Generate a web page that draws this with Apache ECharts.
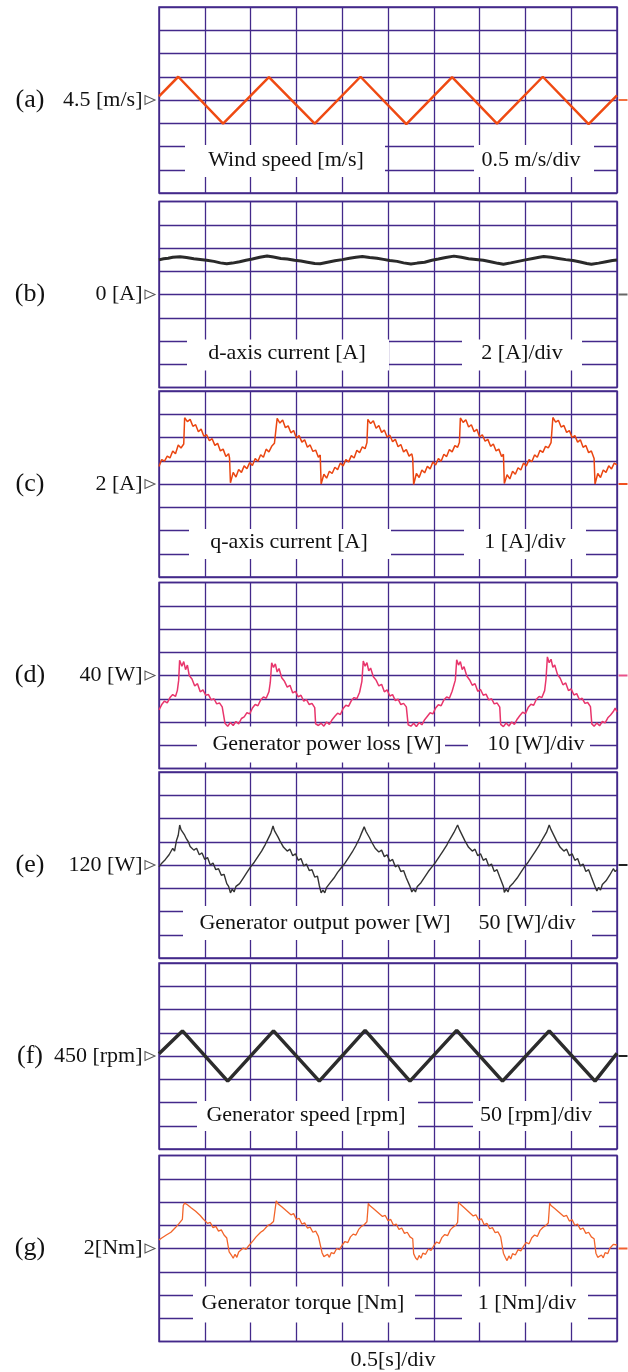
<!DOCTYPE html>
<html>
<head>
<meta charset="utf-8">
<script src="https://cdn.jsdelivr.net/npm/echarts@6/dist/echarts.min.js"></script>
<style>
  html, body { margin: 0; padding: 0; background: #fff; }
  #main { width: 628px; height: 1372px; }
</style>
</head>
<body>
<div id="main"></div>
<script>
// time in seconds, 0.5 s/div, 10 div across
const timeRange = [0, 5];

// (a) wind speed [m/s]
const windSpeed = [[0,4.58],[0.21,5.0],[0.70,3.99],[1.20,4.99],[1.70,3.99],[2.20,5.0],[2.70,3.98],[3.20,4.99],[3.69,3.99],[4.19,5.0],[4.69,3.98],[5.0,4.6]];

// (b) d-axis current [A]
const dCurrent = [[0,2.98],[0.05,3.08],[0.1,3.12],[0.15,3.2],[0.23,3.25],[0.3,3.18],[0.38,3.08],[0.45,3.02],[0.52,2.95],[0.6,2.85],[0.67,2.72],[0.74,2.64],[0.8,2.7],[0.88,2.82],[0.95,2.95],[1.02,3.05],[1.1,3.2],[1.18,3.32],[1.25,3.22],[1.33,3.1],[1.4,3.05],[1.48,2.95],[1.55,2.88],[1.62,2.78],[1.7,2.66],[1.76,2.64],[1.84,2.78],[1.92,2.9],[2.0,3.0],[2.08,3.12],[2.15,3.2],[2.22,3.26],[2.3,3.18],[2.38,3.12],[2.45,3.02],[2.52,2.92],[2.6,2.85],[2.67,2.72],[2.75,2.62],[2.82,2.7],[2.9,2.78],[2.98,2.95],[3.05,3.05],[3.13,3.18],[3.22,3.3],[3.3,3.2],[3.38,3.08],[3.46,3.02],[3.54,2.95],[3.62,2.82],[3.7,2.68],[3.76,2.6],[3.84,2.72],[3.92,2.85],[4.0,2.98],[4.08,3.1],[4.15,3.2],[4.2,3.26],[4.28,3.2],[4.36,3.1],[4.44,3.0],[4.52,2.92],[4.6,2.8],[4.67,2.66],[4.72,2.6],[4.8,2.7],[4.88,2.82],[4.95,2.92],[5.0,2.96]];

// (c) q-axis current [A]
const qCurrent = [[0,2.75],[0.03,3.05],[0.06,2.98],[0.09,3.2],[0.12,3.12],[0.15,3.42],[0.18,3.3],[0.21,3.68],[0.24,3.55],[0.27,3.72],[0.28,4.85],[0.31,4.68],[0.34,4.78],[0.37,4.48],[0.4,4.55],[0.43,4.25],[0.46,4.36],[0.49,4.05],[0.52,4.12],[0.55,3.86],[0.58,3.95],[0.61,3.66],[0.64,3.75],[0.67,3.42],[0.7,3.5],[0.73,3.18],[0.76,3.3],[0.77,3.12],[0.78,2.05],
  [0.81,2.5],[0.84,2.3],[0.87,2.62],[0.9,2.5],[0.93,2.78],[0.96,2.66],[0.99,2.92],[1.02,2.8],[1.05,3.1],[1.08,2.98],[1.11,3.26],[1.14,3.15],[1.17,3.5],[1.2,3.38],[1.23,3.62],[1.26,3.75],[1.28,3.82],[1.29,4.82],
  [1.32,4.62],[1.35,4.75],[1.38,4.42],[1.41,4.5],[1.44,4.2],[1.47,4.3],[1.5,3.98],[1.53,4.08],[1.56,3.8],[1.59,3.9],[1.62,3.58],[1.65,3.68],[1.68,3.4],[1.71,3.46],[1.74,3.15],[1.76,3.25],[1.77,2.0],
  [1.8,2.42],[1.83,2.25],[1.86,2.55],[1.89,2.45],[1.92,2.72],[1.95,2.62],[1.98,2.9],[2.01,2.78],[2.04,3.05],[2.07,2.95],[2.1,3.22],[2.13,3.12],[2.16,3.45],[2.19,3.35],[2.22,3.6],[2.25,3.52],[2.27,3.78],[2.28,4.78],
  [2.31,4.6],[2.34,4.72],[2.37,4.4],[2.4,4.52],[2.43,4.22],[2.46,4.32],[2.49,4.02],[2.52,4.1],[2.55,3.82],[2.58,3.92],[2.61,3.6],[2.64,3.7],[2.67,3.38],[2.7,3.48],[2.73,3.2],[2.76,3.3],[2.77,3.1],[2.78,1.98],
  [2.81,2.45],[2.84,2.28],[2.87,2.6],[2.9,2.48],[2.93,2.76],[2.96,2.65],[2.99,2.95],[3.02,2.82],[3.05,3.1],[3.08,2.98],[3.11,3.28],[3.14,3.18],[3.17,3.48],[3.2,3.38],[3.23,3.65],[3.26,3.58],[3.28,3.8],[3.29,4.84],
  [3.32,4.65],[3.35,4.76],[3.38,4.45],[3.41,4.55],[3.44,4.25],[3.47,4.35],[3.5,4.02],[3.53,4.12],[3.56,3.84],[3.59,3.92],[3.62,3.62],[3.65,3.72],[3.68,3.42],[3.71,3.5],[3.74,3.18],[3.76,3.28],[3.77,2.02],
  [3.8,2.4],[3.83,2.22],[3.86,2.55],[3.89,2.42],[3.92,2.7],[3.95,2.6],[3.98,2.9],[4.01,2.78],[4.04,3.05],[4.07,2.96],[4.1,3.25],[4.13,3.15],[4.16,3.45],[4.19,3.36],[4.22,3.62],[4.25,3.55],[4.28,3.78],[4.3,4.86],
  [4.33,4.66],[4.36,4.74],[4.39,4.45],[4.42,4.52],[4.45,4.22],[4.48,4.3],[4.51,4.0],[4.54,4.08],[4.57,3.8],[4.6,3.9],[4.63,3.58],[4.66,3.66],[4.69,3.35],[4.72,3.42],[4.75,3.1],[4.76,2.0],
  [4.79,2.45],[4.82,2.28],[4.85,2.6],[4.88,2.5],[4.91,2.78],[4.94,2.65],[4.97,2.9],[5.0,2.82]];

// (d) generator power loss [W]
const powerLoss = [[0,25.2],[0.03,27.5],[0.06,29],[0.09,28.2],[0.12,30.5],[0.15,31.8],[0.18,31],[0.2,33.5],[0.215,38],[0.225,46.5],[0.25,44],[0.27,46],[0.29,42.5],[0.31,44.5],[0.33,40],[0.36,38.5],[0.39,35.5],[0.42,36.5],[0.45,33],[0.48,33.8],[0.51,31.5],[0.54,31.8],[0.57,29.5],[0.6,30],[0.63,27.8],[0.66,28.2],[0.69,26.5],[0.71,27],[0.72,19.5],
  [0.75,18.2],[0.78,19.8],[0.81,18.5],[0.84,20.2],[0.87,19.2],[0.9,21.5],[0.93,22.2],[0.96,24],[0.99,23.5],[1.02,26],[1.05,27.5],[1.08,27],[1.11,29.5],[1.14,30.8],[1.17,30.2],[1.2,33],[1.215,37],[1.23,45.5],
  [1.25,43.5],[1.27,45],[1.29,41.5],[1.31,43],[1.34,39],[1.37,37.5],[1.4,35],[1.43,35.8],[1.46,32.5],[1.49,33.2],[1.52,30.8],[1.55,31.5],[1.58,29],[1.61,29.6],[1.64,27.5],[1.67,28],[1.7,26.2],[1.71,19.2],
  [1.74,18.5],[1.77,19.5],[1.8,18.2],[1.83,20],[1.86,19],[1.89,21],[1.92,22.5],[1.95,23.8],[1.98,23.2],[2.01,25.8],[2.04,27.2],[2.07,26.8],[2.1,29.2],[2.13,30.5],[2.16,30],[2.19,32.8],[2.215,37.5],[2.23,46.2],
  [2.25,44],[2.27,45.5],[2.29,42],[2.31,43.2],[2.34,39.5],[2.37,38],[2.4,35.5],[2.43,36.2],[2.46,33],[2.49,33.8],[2.52,31.2],[2.55,31.8],[2.58,29.2],[2.61,29.8],[2.64,27.5],[2.67,28],[2.7,26.5],[2.72,18.8],
  [2.75,18.2],[2.78,19.5],[2.81,18],[2.84,19.8],[2.87,18.8],[2.9,21],[2.93,22.5],[2.96,24],[2.99,23.5],[3.02,26],[3.05,27.4],[3.08,27],[3.11,29.5],[3.14,30.8],[3.17,30.2],[3.2,33.2],[3.235,38],[3.25,46.8],
  [3.27,44.5],[3.29,46],[3.31,42.5],[3.33,43.8],[3.36,39.8],[3.39,38.2],[3.42,35.8],[3.45,36.5],[3.48,33.2],[3.51,34],[3.54,31.5],[3.57,32],[3.6,29.5],[3.63,30],[3.66,27.8],[3.69,28.2],[3.72,26.4],[3.73,19],
  [3.76,18],[3.79,19.6],[3.82,18.3],[3.85,20],[3.88,19],[3.91,21.2],[3.94,22.8],[3.97,24.2],[4.0,23.6],[4.03,26.2],[4.06,27.6],[4.09,27.2],[4.12,29.8],[4.15,31],[4.18,30.5],[4.21,33.5],[4.225,38.5],[4.24,48],
  [4.26,45.5],[4.28,47],[4.3,43.5],[4.32,44.5],[4.35,40.5],[4.38,38.8],[4.41,36],[4.44,36.8],[4.47,33.5],[4.5,34.2],[4.53,31.6],[4.56,32.2],[4.59,29.6],[4.62,30.2],[4.65,28],[4.68,28.4],[4.71,26.6],[4.725,19.2],
  [4.75,18.2],[4.78,19.6],[4.81,18.4],[4.84,20.2],[4.87,19.6],[4.9,21.8],[4.93,23],[4.96,24.5],[4.98,26],[5.0,24.4]];

// (e) generator output power [W]
const outputPower = [[0,116],[0.03,124],[0.05,120],[0.07,132],[0.09,128],[0.11,142],[0.13,138],[0.15,156],[0.17,150],[0.19,172],[0.21,184],[0.226,206],[0.24,196],[0.26,200],[0.28,184],[0.3,176],[0.32,170],[0.34,160],[0.36,164],[0.38,152],[0.41,156],[0.44,142],[0.47,146],[0.5,132],[0.53,136],[0.56,120],[0.59,124],[0.62,110],[0.65,112],[0.68,98],[0.71,100],[0.74,80],[0.76,74],[0.78,60],
  [0.8,68],[0.82,62],[0.84,74],[0.86,70],[0.88,80],[0.9,78],[0.92,92],[0.94,88],[0.96,104],[0.98,100],[1.0,116],[1.02,112],[1.04,126],[1.06,124],[1.08,138],[1.1,134],[1.12,150],[1.14,148],[1.16,164],[1.18,172],[1.2,180],[1.22,188],[1.245,204],
  [1.26,194],[1.28,198],[1.3,180],[1.32,172],[1.34,168],[1.36,158],[1.38,162],[1.4,150],[1.43,154],[1.46,140],[1.49,144],[1.52,130],[1.55,134],[1.58,118],[1.61,122],[1.64,108],[1.67,110],[1.7,94],[1.73,96],[1.75,76],[1.77,60],
  [1.79,66],[1.81,60],[1.83,72],[1.85,68],[1.87,82],[1.89,78],[1.91,92],[1.93,88],[1.95,104],[1.97,100],[1.99,114],[2.01,110],[2.03,124],[2.05,122],[2.07,136],[2.09,132],[2.11,148],[2.13,146],[2.15,162],[2.17,170],[2.19,178],[2.21,188],[2.24,202],
  [2.26,192],[2.28,196],[2.3,178],[2.32,170],[2.34,166],[2.36,156],[2.38,160],[2.4,148],[2.43,152],[2.46,138],[2.49,142],[2.52,128],[2.55,132],[2.58,116],[2.61,120],[2.64,106],[2.67,108],[2.7,92],[2.72,94],[2.74,74],[2.76,62],
  [2.78,68],[2.8,62],[2.82,74],[2.84,70],[2.86,82],[2.88,80],[2.9,94],[2.92,90],[2.94,106],[2.96,102],[2.98,116],[3.0,112],[3.02,126],[3.04,124],[3.06,138],[3.08,134],[3.1,150],[3.12,148],[3.14,162],[3.16,170],[3.19,180],[3.22,190],[3.26,206],
  [3.28,196],[3.3,198],[3.32,180],[3.34,172],[3.36,168],[3.38,158],[3.4,162],[3.42,150],[3.45,154],[3.48,140],[3.51,144],[3.54,130],[3.57,134],[3.6,118],[3.63,122],[3.66,106],[3.69,110],[3.72,94],[3.74,96],[3.76,74],[3.77,61],
  [3.79,68],[3.81,62],[3.83,74],[3.85,70],[3.87,82],[3.89,78],[3.91,92],[3.93,90],[3.95,104],[3.97,100],[3.99,116],[4.01,112],[4.03,126],[4.05,124],[4.07,138],[4.09,134],[4.11,150],[4.13,148],[4.15,162],[4.17,170],[4.2,180],[4.23,190],[4.26,206],
  [4.28,196],[4.3,198],[4.32,180],[4.34,172],[4.36,168],[4.38,158],[4.4,162],[4.42,150],[4.45,154],[4.48,140],[4.51,144],[4.54,130],[4.57,134],[4.6,118],[4.63,122],[4.66,106],[4.69,110],[4.72,94],[4.74,92],[4.76,74],[4.78,64],
  [4.8,72],[4.82,66],[4.84,78],[4.86,74],[4.88,86],[4.9,84],[4.92,98],[4.94,94],[4.96,112],[4.98,106],[5.0,110]];

// (f) generator speed [rpm]
const genSpeed = [[0,455],[0.256,504],[0.75,396],[1.25,504],[1.75,396],[2.25,505],[2.74,396],[3.25,505],[3.75,396],[4.26,504],[4.76,396],[5.0,456]];

// (g) generator torque [Nm]
const genTorque = [[0,2.37],[0.03,2.45],[0.05,2.4],[0.08,2.58],[0.1,2.52],[0.13,2.7],[0.15,2.64],[0.18,2.9],[0.2,2.85],[0.22,3.08],[0.24,3.02],[0.255,3.25],[0.265,3.85],[0.28,3.95],[0.295,4.02],[0.31,3.88],[0.33,3.95],[0.35,3.75],[0.37,3.8],[0.4,3.6],[0.42,3.66],[0.45,3.42],[0.48,3.28],[0.5,3.32],[0.53,3.08],[0.56,3.12],[0.59,2.9],[0.62,2.95],[0.65,2.75],[0.68,2.8],[0.71,2.58],[0.74,2.45],[0.755,2.4],[0.766,1.85],
  [0.79,1.72],[0.81,1.58],[0.83,1.75],[0.85,1.62],[0.87,1.85],[0.89,1.8],[0.92,2.02],[0.95,1.96],[0.98,2.12],[1.0,2.08],[1.03,2.35],[1.06,2.5],[1.08,2.45],[1.11,2.7],[1.14,2.78],[1.16,2.72],[1.19,3.0],[1.22,3.05],[1.25,3.16],[1.27,3.2],[1.28,4.05],
  [1.3,3.92],[1.32,4.0],[1.34,3.8],[1.36,3.86],[1.39,3.62],[1.41,3.68],[1.44,3.45],[1.47,3.5],[1.5,3.25],[1.53,3.3],[1.56,3.05],[1.59,3.1],[1.62,2.88],[1.65,2.92],[1.68,2.7],[1.71,2.75],[1.74,2.52],[1.76,2.45],[1.78,1.82],
  [1.8,1.65],[1.82,1.58],[1.84,1.75],[1.86,1.62],[1.88,1.82],[1.91,1.78],[1.94,2.0],[1.97,1.95],[2.0,2.15],[2.03,2.3],[2.06,2.25],[2.09,2.5],[2.12,2.62],[2.15,2.58],[2.18,2.82],[2.21,2.95],[2.24,3.02],[2.27,3.15],[2.285,3.94],
  [2.3,3.85],[2.32,3.9],[2.34,3.72],[2.36,3.78],[2.39,3.55],[2.41,3.6],[2.44,3.38],[2.47,3.42],[2.5,3.2],[2.53,3.25],[2.56,3.0],[2.59,3.05],[2.62,2.82],[2.65,2.88],[2.68,2.65],[2.71,2.7],[2.74,2.5],[2.77,2.42],[2.78,1.78],
  [2.8,1.6],[2.82,1.51],[2.84,1.7],[2.86,1.58],[2.88,1.8],[2.91,1.75],[2.94,1.98],[2.97,1.92],[3.0,2.12],[3.03,2.28],[3.06,2.22],[3.09,2.48],[3.12,2.6],[3.15,2.55],[3.18,2.8],[3.21,2.92],[3.24,3.0],[3.26,3.12],[3.27,4.0],
  [3.29,3.9],[3.31,3.96],[3.33,3.76],[3.35,3.82],[3.38,3.58],[3.4,3.64],[3.43,3.4],[3.46,3.45],[3.49,3.22],[3.52,3.28],[3.55,3.02],[3.58,3.08],[3.61,2.85],[3.64,2.9],[3.67,2.68],[3.7,2.72],[3.73,2.5],[3.75,2.42],[3.76,1.8],
  [3.78,1.62],[3.8,1.48],[3.82,1.68],[3.84,1.55],[3.86,1.78],[3.89,1.72],[3.92,1.95],[3.95,1.9],[3.98,2.1],[4.01,2.26],[4.04,2.2],[4.07,2.46],[4.1,2.58],[4.13,2.52],[4.16,2.78],[4.19,2.9],[4.22,2.98],[4.25,3.1],[4.265,3.95],
  [4.28,3.85],[4.3,3.9],[4.32,3.72],[4.34,3.78],[4.37,3.55],[4.39,3.6],[4.42,3.38],[4.45,3.42],[4.48,3.18],[4.51,3.24],[4.54,3.0],[4.57,3.05],[4.6,2.82],[4.63,2.88],[4.66,2.65],[4.69,2.7],[4.72,2.5],[4.75,2.42],[4.77,1.8],
  [4.79,1.62],[4.81,1.55],[4.83,1.72],[4.85,1.6],[4.87,1.82],[4.9,1.78],[4.92,2.0],[4.94,1.92],[4.96,2.18],[4.98,2.1],[5.0,2.15]];

// reference level (centre line) and volts-per-div style scale of each trace
const tags = ['(a)', '(b)', '(c)', '(d)', '(e)', '(f)', '(g)'];
const refLevels = [4.5, 0, 2, 40, 120, 450, 2];
const perDiv = [0.5, 2, 1, 10, 50, 50, 1];
const refLabels = ['4.5 [m/s]', '0 [A]', '2 [A]', '40 [W]', '120 [W]', '450 [rpm]', '2[Nm]'];
const titles = ['Wind speed [m/s]', 'd-axis current [A]', 'q-axis current [A]', 'Generator power loss [W]', 'Generator output power [W]', 'Generator speed [rpm]', 'Generator torque [Nm]'];
const scaleLabels = ['0.5 m/s/div', '2 [A]/div', '1 [A]/div', '10 [W]/div', '50 [W]/div', '50 [rpm]/div', '1 [Nm]/div'];
const traces = [windSpeed, dCurrent, qCurrent, powerLoss, outputPower, genSpeed, genTorque];

// look of each panel
const colors = ['#ef4a12', '#2a2a2a', '#ea4510', '#e8356c', '#333333', '#2c2c2c', '#f2642a'];
const widths = [2.5, 3, 1.5, 1.5, 1.4, 3.5, 1.3];
const markColors = ['#f27040', '#666', '#f05020', '#e8508a', '#222', '#222', '#f06030'];
const tops = [7, 201.5, 391, 582.5, 772, 963, 1155.5];
const H = 186, LEFT = 159, RIGHT = 11;
const gridColor = '#43298a';
const font = '"Liberation Serif", "Times New Roman", serif';

// white label boxes: [x1, x2] pairs, y range relative to panel top, text centres
const boxes = [
  { xs: [[185, 385], [474, 594]], y: [138, 170], tx: [286, 531], ty: 153 },
  { xs: [[187, 389], [462, 582]], y: [138, 169], tx: [287, 522], ty: 152 },
  { xs: [[189, 391], [464, 586]], y: [138, 168], tx: [289, 525], ty: 151 },
  { xs: [[197, 445], [468, 590]], y: [144, 180], tx: [327, 536], ty: 162 },
  { xs: [[183, 592]], y: [134, 168], tx: [325, 527], ty: 151 },
  { xs: [[197, 418], [473, 599]], y: [138, 168], tx: [306, 536], ty: 152 },
  { xs: [[193, 415], [462, 588]], y: [131, 167], tx: [303, 527], ty: 148 }
];

const chart = echarts.init(document.getElementById('main'), null, { renderer: 'canvas' });

const grids = [], xAxes = [], yAxes = [], series = [], graphics = [];
tops.forEach((top, i) => {
  const div = perDiv[i], ref = refLevels[i];
  grids.push({ left: LEFT, right: RIGHT, top: top, height: H, show: true,
    borderColor: gridColor, borderWidth: 1.5, backgroundColor: 'transparent' });
  const common = {
    gridIndex: i, type: 'value',
    axisLine: { show: false }, axisTick: { show: false }, axisLabel: { show: false },
    splitLine: { show: true, lineStyle: { color: gridColor, width: 1.3 } }
  };
  xAxes.push(Object.assign({ min: timeRange[0], max: timeRange[1], interval: 0.5 }, common));
  // axis is centred on the reference level (offset only)
  yAxes.push(Object.assign({ min: -4 * div, max: 4 * div, interval: div }, common));
  series.push({
    type: 'line', xAxisIndex: i, yAxisIndex: i, symbol: 'none', z: 3,
    data: traces[i].map(p => [p[0], p[1] - ref]),
    lineStyle: { color: colors[i], width: widths[i] },
    markPoint: {
      silent: true, animation: false,
      data: [
        { coord: [timeRange[0], 0], symbol: 'triangle', symbolSize: [9, 10], symbolRotate: -90,
          symbolOffset: [-9, 0],
          itemStyle: { color: '#fff', borderColor: '#555', borderWidth: 1 },
          label: { show: true, position: 'left', distance: 2, formatter: refLabels[i],
            color: '#111', fontFamily: font, fontSize: 22 } },
        { coord: [timeRange[1], 0], symbol: 'rect', symbolSize: [9, 2], symbolOffset: [6, 0],
          itemStyle: { color: markColors[i] }, label: { show: false } }
      ]
    }
  });
  // panel letter
  graphics.push({ type: 'text', x: 30, y: top + H / 2, z: 5, silent: true,
    style: { text: tags[i], font: '26px ' + font, fill: '#111',
      align: 'center', verticalAlign: 'middle', textAlign: 'center', textVerticalAlign: 'middle' } });
  const b = boxes[i];
  b.xs.forEach(xx => {
    graphics.push({ type: 'rect', z: 1, silent: true,
      shape: { x: xx[0], y: top + b.y[0], width: xx[1] - xx[0], height: b.y[1] - b.y[0] },
      style: { fill: '#fff' } });
  });
  [titles[i], scaleLabels[i]].forEach((t, k) => {
    graphics.push({ type: 'text', x: b.tx[k], y: top + b.ty, z: 2, silent: true,
      style: { text: t, font: '22px ' + font, fill: '#111',
        align: 'center', verticalAlign: 'middle', textAlign: 'center', textVerticalAlign: 'middle' } });
  });
});

graphics.push({ type: 'text', x: 393, y: 1360, z: 2, silent: true,
  style: { text: '0.5[s]/div', font: '22px ' + font, fill: '#111',
    align: 'center', verticalAlign: 'middle', textAlign: 'center', textVerticalAlign: 'middle' } });

chart.setOption({
  animation: false,
  backgroundColor: '#fff',
  grid: grids,
  xAxis: xAxes,
  yAxis: yAxes,
  series: series,
  graphic: graphics
});
</script>
</body>
</html>
